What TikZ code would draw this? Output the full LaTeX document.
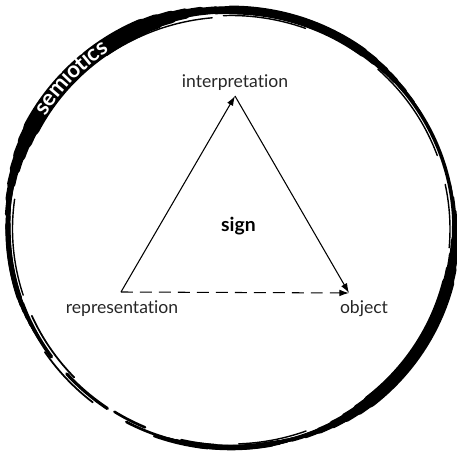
\documentclass[tikz,border=0pt]{standalone}
\usepackage{fontspec}
\setmainfont{Lato}[Ligatures=NoCommon]
\usetikzlibrary{arrows.meta,decorations.text}

% one brush stroke on the ring: from angle, to angle, width, radius offset
\newcommand{\brushstroke}[4]{%
  \draw[line width=#3, line cap=round] (ring) ++(#1:{4.46+#4} and {4.37+#4})
    arc[start angle=#1, end angle=#2, x radius={4.46+#4}, y radius={4.37+#4}];}
% a stroke that swells to its widest in the middle
\newcommand{\brushtaper}[4]{%
  \foreach \k in {0,...,7}{%
    \pgfmathsetmacro\sa{#1+(#2-#1)*\k/24}%
    \pgfmathsetmacro\ea{#2-(#2-#1)*\k/24}%
    \pgfmathsetmacro\wd{#3*(\k+1)/8}%
    \brushstroke{\sa}{\ea}{\wd pt}{#4}}}

\begin{document}
\begin{tikzpicture}[>={Latex[length=5.5pt,width=3.8pt]},semithick,
    lbl/.style={anchor=base, text=black!85, font=\fontsize{10}{12}\selectfont}]
        \useasboundingbox (0,0) rectangle (9.14,9.06);
        \coordinate (ring) at (4.62,4.48);

        % the brush circle
        \brushstroke{-95}{200}{2pt}{0}
        \brushtaper{86}{180}{9.5}{0.03}
        \brushtaper{28}{116}{5}{0.01}
        \brushtaper{-78}{12}{7}{0.02}
        \brushtaper{-112}{-66}{3.2}{0}
        \brushtaper{165}{212}{3}{0}
        \brushstroke{-110}{-96}{1.2pt}{0.04}
        \brushstroke{172}{198}{0.8pt}{-0.09}
        \brushstroke{200}{216}{2pt}{-0.02}
        \brushstroke{204}{224}{1pt}{-0.1}
        \brushstroke{214}{232}{1pt}{0.03}
        \brushstroke{222}{236}{1.8pt}{-0.04}
        \brushstroke{238}{247}{1.5pt}{-0.06}
        \brushstroke{242}{256}{1.5pt}{0}
        \brushstroke{250}{262}{1pt}{0.03}
        \brushstroke{257}{266}{1.8pt}{-0.03}
        \brushstroke{95}{125}{0.8pt}{-0.13}
        \brushstroke{70}{92}{0.8pt}{-0.1}
        \brushstroke{20}{48}{0.8pt}{-0.07}
        \brushstroke{-5}{12}{0.8pt}{-0.08}
        \brushstroke{-88}{-70}{0.8pt}{-0.07}

        % the name on the thick stroke
        \path (ring) ++(155:4.49 and 4.40) coordinate (semstart);
        \path[decorate, decoration={text along path, text align=center, raise=-3.5pt,
            text={|\fontsize{12.8}{13}\selectfont\bfseries\color{white}|semiotics}}]
            (semstart) arc[start angle=155, end angle=117, x radius=4.49, y radius=4.40];

        % the triangle
        \coordinate (rep) at (2.42,3.22);
        \coordinate (int) at (4.70,7.14);
        \coordinate (obj) at (6.98,3.20);
        \node (interp) [lbl] at (4.70,7.30) {interpretation};
        \node (repr) [lbl] at (2.44,2.78) {representation};
        \node (object) [lbl] at (7.28,2.78) {object};
        \node (sign) [lbl, text=black, font=\fontsize{11}{13}\selectfont\bfseries] at (4.77,4.42) {sign};

        \draw[->] (rep) -- (int);
        \draw[->] (int) -- (obj);
        \draw[->, dash pattern=on 6.8pt off 4pt] (rep) -- (obj);
    \end{tikzpicture}
\end{document}
